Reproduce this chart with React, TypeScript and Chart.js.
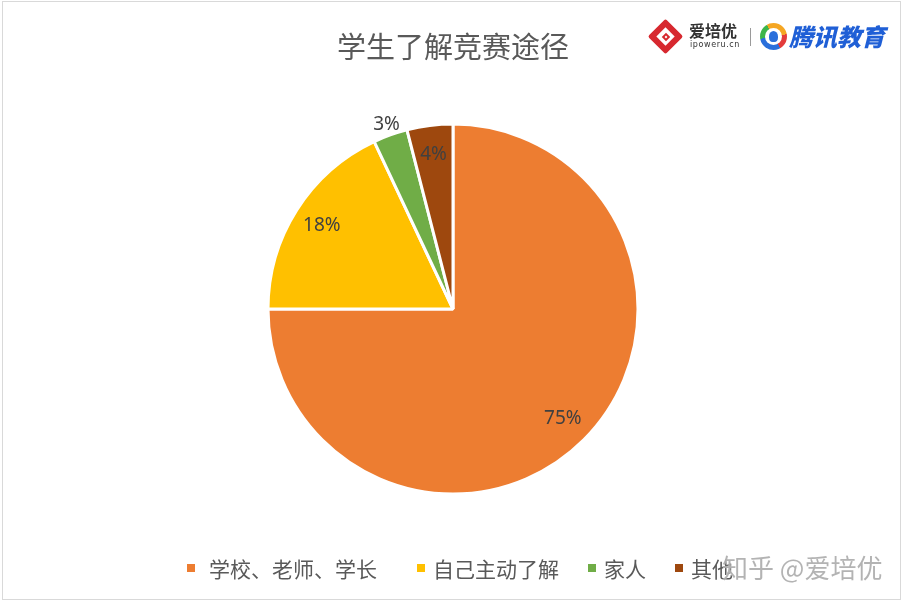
import React, { useEffect, useRef } from "react";
import { Chart, registerables } from "chart.js";

Chart.register(...registerables);

const title = "学生了解竞赛途径";
const categories = ["学校、老师、学长", "自己主动了解", "家人", "其他"];
const values = [75, 18, 3, 4];
const colors = ["#ED7D31", "#FFC000", "#70AD47", "#9E480E"];
const watermark = "知乎 @爱培优";

const CJK = '"Noto Sans CJK SC", "Noto Sans", sans-serif';

const labelPlugin = {
  id: "pctLabels",
  afterDatasetsDraw(chart: any) {
    const ctx = chart.ctx;
    const meta = chart.getDatasetMeta(0);
    const data = chart.data.datasets[0].data as number[];
    const total = data.reduce((a, b) => a + b, 0);
    ctx.save();
    ctx.font = '19px "Noto Sans", "Open Sans", sans-serif';
    ctx.fillStyle = "#404040";
    ctx.textAlign = "center";
    ctx.textBaseline = "middle";
    meta.data.forEach((arc: any, i: number) => {
      const p = arc.getProps(["x", "y", "startAngle", "endAngle", "outerRadius"], true);
      const mid = (p.startAngle + p.endAngle) / 2;
      const frac = data[i] / total;
      const f = frac < 0.035 ? 1.06 : 0.84;
      const r = p.outerRadius * f;
      const x = p.x + Math.cos(mid) * r;
      const y = p.y + Math.sin(mid) * r;
      ctx.fillText(Math.round(frac * 100) + "%", x, y);
    });
    ctx.restore();
  },
};

export default function App() {
  const ref = useRef<HTMLCanvasElement | null>(null);

  useEffect(() => {
    if (!ref.current) return;
    const chart = new Chart(ref.current, {
      type: "pie",
      data: {
        labels: categories,
        datasets: [
          {
            data: values,
            backgroundColor: colors,
            borderColor: "#ffffff",
            borderWidth: 3,
            hoverOffset: 0,
            offset: 0,
          },
        ],
      },
      options: {
        animation: false,
        responsive: false,
        maintainAspectRatio: false,
        events: [],
        layout: {
          padding: { left: 266.5, right: 262.5, top: 122.5, bottom: 106.5 },
        },
        plugins: {
          legend: { display: false },
          title: { display: false },
          tooltip: { enabled: false },
        },
      },
      plugins: [labelPlugin],
    });
    return () => chart.destroy();
  }, []);

  return (
    <div
      style={{
        position: "fixed",
        left: 0,
        top: 0,
        width: 902,
        height: 602,
        background: "#ffffff",
        overflow: "hidden",
        fontFamily: CJK,
      }}
    >
      <div
        style={{
          position: "absolute",
          left: 2,
          top: 1,
          width: 897,
          height: 597,
          border: "1px solid #d9d9d9",
        }}
      />
      <canvas ref={ref} width={902} height={602} style={{ position: "absolute", left: 0, top: 0 }} />
      <div
        style={{
          position: "absolute",
          left: 0,
          width: 902,
          top: 25,
          textAlign: "center",
          fontSize: 29,
          lineHeight: "40px",
          color: "#595959",
          paddingLeft: 2,
        }}
      >
        {title}
      </div>

      {/* logos */}
      <div style={{ position: "absolute", left: 653, top: 24, width: 25, height: 25 }}>
        <div
          style={{
            position: "absolute",
            left: 0,
            top: 0,
            width: 25,
            height: 25,
            background: "#d7282f",
            transform: "rotate(45deg)",
            borderRadius: 2,
          }}
        />
        <div
          style={{
            position: "absolute",
            left: 6,
            top: 6,
            width: 13,
            height: 13,
            background: "#ffffff",
            transform: "rotate(45deg)",
          }}
        />
        <div
          style={{
            position: "absolute",
            left: 9.5,
            top: 9.5,
            width: 6,
            height: 6,
            border: "2px solid #d7282f",
            boxSizing: "border-box",
            transform: "rotate(45deg)",
          }}
        />
      </div>
      <div
        style={{
          position: "absolute",
          left: 689,
          top: 20,
          fontSize: 16,
          fontWeight: 700,
          color: "#333333",
          lineHeight: "20px",
        }}
      >
        爱培优
      </div>
      <div
        style={{
          position: "absolute",
          left: 690,
          top: 40,
          fontSize: 8,
          color: "#333333",
          lineHeight: "10px",
          fontFamily: '"DejaVu Sans", sans-serif',
          letterSpacing: 0.6,
        }}
      >
        ipoweru.cn
      </div>
      <div style={{ position: "absolute", left: 750, top: 28, width: 1, height: 18, background: "#9a9a9a" }} />
      <div
        style={{
          position: "absolute",
          left: 760,
          top: 23,
          width: 27,
          height: 27,
          borderRadius: "50%",
          background:
            "conic-gradient(#f5a623 0deg 80deg, #e33b3b 80deg 150deg, #2a6fdb 150deg 260deg, #3cb54a 260deg 330deg, #f5a623 330deg 360deg)",
        }}
      >
        <div
          style={{
            position: "absolute",
            left: 5,
            top: 5,
            width: 17,
            height: 17,
            borderRadius: "50%",
            background: "#ffffff",
          }}
        />
        <div
          style={{
            position: "absolute",
            left: 9,
            top: 8,
            width: 9,
            height: 11,
            borderRadius: "50% 50% 40% 40%",
            background: "#2a6fdb",
          }}
        />
      </div>
      <div
        style={{
          position: "absolute",
          left: 789,
          top: 21,
          fontSize: 24,
          fontWeight: 900,
          fontStyle: "italic",
          color: "#1f5fd6",
          lineHeight: "30px",
        }}
      >
        腾讯教育
      </div>

      {/* legend */}
      <div
        style={{
          position: "absolute",
          left: 187,
          top: 553,
          display: "flex",
          alignItems: "center",
          gap: 29,
          fontSize: 21,
          lineHeight: "30px",
          color: "#595959",
          whiteSpace: "nowrap",
        }}
      >
        {categories.map((c, i) => (
          <div key={c} style={{ display: "flex", alignItems: "center" }}>
            <span
              style={{
                display: "inline-block",
                width: 8,
                height: 8,
                background: colors[i],
                marginRight: i === 0 ? 14 : 8,
              }}
            />
            <span style={{ marginRight: i === 0 ? 11 : 0 }}>{c}</span>
          </div>
        ))}
      </div>

      {/* watermark */}
      <div
        style={{
          position: "absolute",
          left: 722,
          top: 549,
          fontSize: 26,
          lineHeight: "36px",
          color: "rgba(150,150,150,0.72)",
          textShadow: "0 0 1px rgba(255,255,255,0.9)",
          whiteSpace: "nowrap",
        }}
      >
        {watermark}
      </div>
    </div>
  );
}
